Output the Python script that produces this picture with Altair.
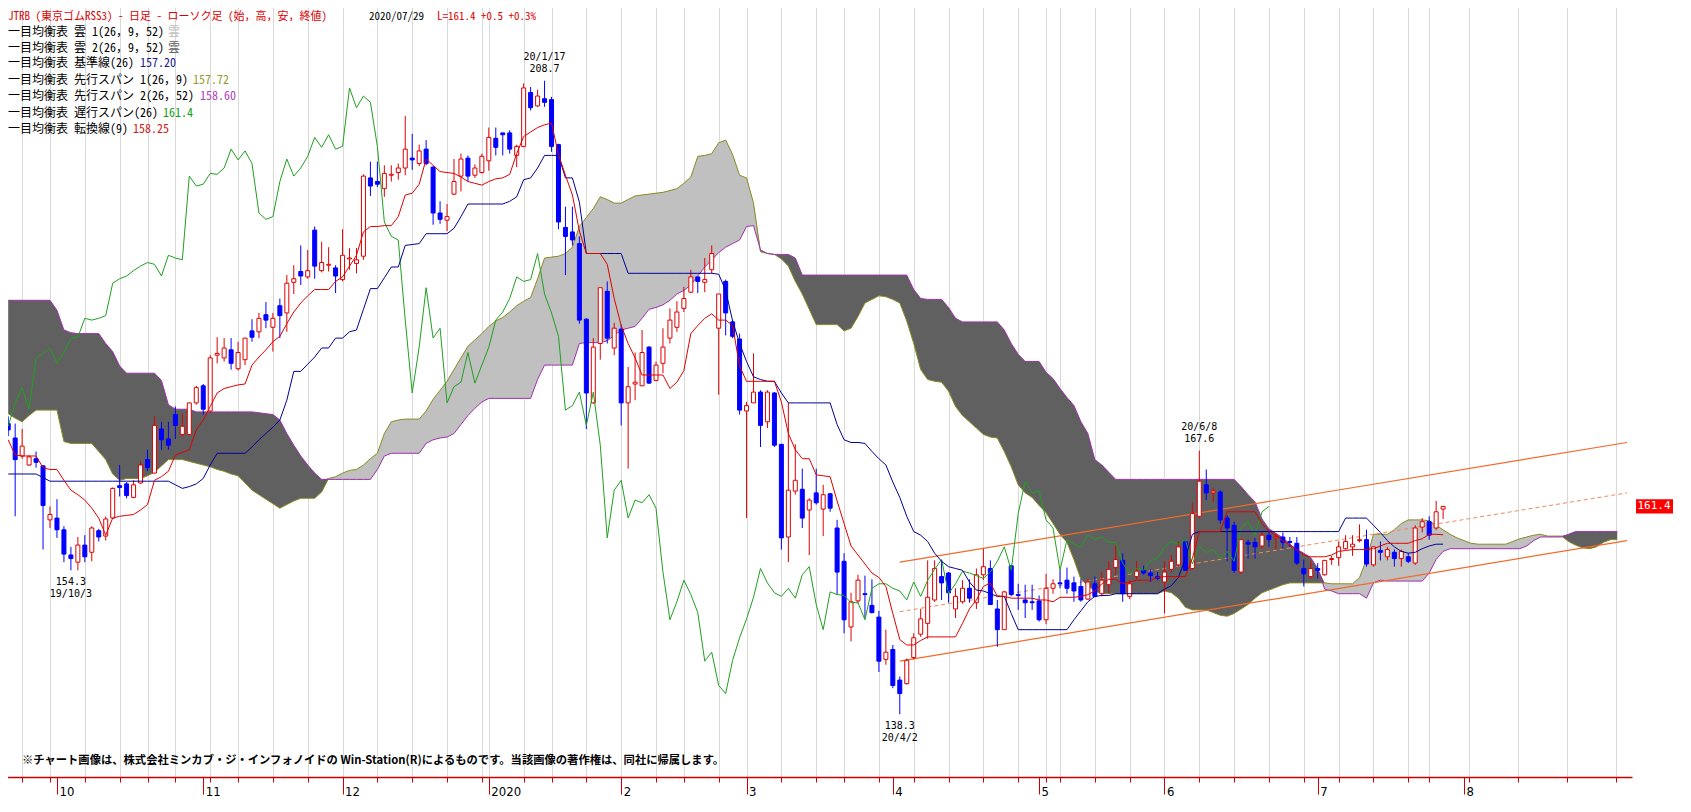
import altair as alt
import pandas as pd

# ---------------- calendar (x categories) ----------------
FIRST_DATE = "2019-09-19"
LAST_DATE = "2020-07-29"
FIRST_INDEX = -9          # 2019-10-03 (low 154.3) is index 0
HOLIDAYS = ["2019-09-23", "2019-10-14", "2019-10-22", "2019-11-04", "2019-12-31",
            "2020-01-01", "2020-01-02", "2020-01-03", "2020-01-13", "2020-02-11",
            "2020-02-24", "2020-03-20", "2020-04-29", "2020-05-04", "2020-05-05",
            "2020-05-06", "2020-07-23", "2020-07-24"]
FUTURE_MONTH_INDEX = [200]
FUTURE_MONTH_LABEL = ["8"]
FUTURE_WEEK_INDEX = [200.7, 207.8, 214.8, 221.8]

X_DOMAIN = [-9.46, 223.4]
Y_DOMAIN = [131.33, 217.67]
Y_TICKS = [140, 150, 160, 170, 180, 190, 200, 210]

# ---------------- candles (index -9 .. 197) ----------------
OPEN = [170.6, 169.0, 167.0, 166.0, 166.7, 165.9, 159.9, 160.1, 158.8, 156.0,
        155.2, 157.1, 156.3, 158.7, 158.1, 160.1, 163.7, 163.9, 162.4, 164.0,
        166.6, 165.1, 170.0, 168.9, 171.6, 169.4, 169.4, 172.9, 174.8, 172.0,
        178.2, 177.9, 178.8, 176.7, 177.7, 180.9, 180.8, 182.7, 181.3, 183.7,
        182.9, 186.3, 187.5, 186.9, 192.1, 187.6, 188.2, 187.9, 186.6, 188.9,
        188.4, 189.2, 197.9, 197.5, 196.7, 198.2, 198.5, 199.0, 200.1, 199.5,
        201.1, 199.1, 194.0, 193.2, 196.1, 198.1, 200.1, 198.2, 198.5, 199.8,
        202.3, 202.9, 202.9, 200.4, 201.4, 207.4, 205.9, 206.7, 206.6, 201.6,
        192.4, 191.9, 190.6, 182.2, 172.9, 179.5, 185.3, 179.0, 181.1, 172.9,
        175.0, 174.8, 179.1, 175.4, 177.3, 180.1, 181.3, 183.4, 185.2, 186.9,
        186.3, 187.7, 181.2, 186.4, 181.9, 180.0, 172.0, 172.9, 174.1, 170.8,
        174.0, 168.3, 158.0, 163.1, 163.3, 161.0, 162.9, 161.1, 162.8, 159.0,
        155.3, 148.0, 150.9, 151.7, 150.4, 149.1, 144.4, 145.5, 142.1, 141.7,
        144.6, 147.2, 148.4, 151.0, 153.6, 154.0, 150.0, 150.8, 152.3, 150.7,
        153.8, 154.5, 150.0, 147.7, 154.8, 151.6, 151.0, 150.8, 150.9, 148.8,
        152.3, 152.9, 153.2, 152.9, 152.5, 151.1, 152.8, 151.7, 152.7, 154.6,
        155.4, 151.4, 153.6, 154.3, 154.0, 153.6, 153.0, 154.4, 154.9, 157.5,
        154.5, 160.3, 163.8, 162.9, 163.0, 160.1, 159.3, 154.1, 157.4, 157.4,
        157.0, 158.2, 157.9, 158.0, 157.5, 157.3, 154.5, 153.6, 154.5, 153.8,
        155.5, 155.7, 156.7, 156.9, 157.6, 157.7, 154.9, 156.5, 155.8, 156.3,
        155.6, 155.8, 155.1, 159.1, 159.7, 159.0, 161.1]
HIGH = [171.4, 170.6, 170.0, 167.1, 167.5, 166.0, 161.4, 162.2, 159.2, 156.9,
        158.0, 158.2, 159.2, 158.9, 160.3, 163.5, 166.0, 164.1, 164.3, 166.4,
        167.7, 171.4, 170.8, 170.8, 172.5, 171.7, 172.9, 174.8, 175.0, 178.2,
        180.2, 180.1, 180.1, 179.7, 180.1, 182.2, 182.9, 184.1, 182.9, 184.5,
        187.1, 188.2, 190.4, 189.9, 192.5, 190.8, 190.2, 188.2, 192.2, 190.1,
        190.1, 198.3, 199.7, 199.7, 199.3, 199.3, 199.5, 204.8, 202.8, 201.6,
        202.1, 199.2, 195.3, 195.0, 200.0, 200.6, 200.4, 199.4, 200.6, 203.5,
        203.5, 202.9, 203.2, 201.6, 208.4, 208.0, 207.7, 208.7, 206.9, 201.7,
        194.7, 194.7, 191.4, 182.3, 180.1, 185.7, 186.4, 181.8, 181.6, 176.9,
        178.5, 181.0, 179.2, 177.5, 181.2, 183.4, 184.2, 185.8, 187.7, 186.9,
        189.0, 190.4, 185.0, 186.6, 182.1, 180.6, 173.0, 178.4, 174.3, 174.3,
        174.1, 168.3, 172.9, 168.3, 165.6, 162.3, 165.6, 163.8, 162.9, 159.9,
        156.2, 151.8, 153.8, 153.7, 153.3, 149.8, 147.7, 146.0, 142.5, 144.5,
        147.3, 150.0, 155.4, 155.4, 155.4, 154.1, 152.3, 153.2, 153.3, 154.5,
        156.7, 155.4, 151.0, 152.0, 154.9, 152.8, 152.7, 152.7, 151.5, 153.9,
        153.3, 154.3, 154.6, 153.6, 153.3, 153.3, 153.6, 154.1, 155.3, 157.1,
        156.2, 153.2, 155.3, 154.8, 154.4, 154.1, 155.3, 156.0, 157.5, 157.7,
        161.8, 167.6, 165.5, 163.5, 163.2, 160.4, 159.7, 157.8, 157.7, 157.9,
        158.6, 158.8, 158.4, 158.5, 158.0, 158.0, 155.5, 155.4, 155.1, 155.4,
        155.9, 157.5, 158.2, 158.2, 159.4, 158.8, 157.0, 157.5, 156.9, 156.6,
        156.6, 156.2, 159.3, 160.1, 160.3, 162.0, 161.4]
LOW = [169.2, 160.3, 166.7, 165.9, 165.7, 156.6, 159.0, 157.9, 155.2, 154.3,
       154.3, 155.2, 155.3, 157.5, 157.6, 160.0, 162.5, 162.3, 162.3, 163.9,
       165.3, 165.1, 167.7, 167.7, 168.9, 169.2, 169.3, 172.7, 171.6, 171.8,
       177.3, 177.5, 176.6, 176.5, 177.1, 179.7, 180.1, 181.2, 178.6, 180.1,
       180.8, 185.0, 186.0, 186.7, 186.7, 187.4, 187.5, 185.1, 186.4, 187.7,
       187.3, 188.8, 195.9, 196.9, 195.8, 197.5, 197.7, 198.2, 198.8, 199.2,
       199.3, 192.7, 192.8, 192.0, 196.0, 196.4, 197.5, 197.9, 198.4, 198.7,
       200.4, 200.4, 200.6, 199.1, 201.3, 205.4, 205.8, 205.8, 200.8, 192.2,
       187.1, 190.4, 181.7, 170.0, 172.8, 177.7, 179.5, 178.2, 170.4, 165.6,
       173.2, 174.8, 175.0, 175.3, 176.2, 179.5, 180.8, 183.0, 185.1, 185.1,
       185.2, 187.3, 173.8, 180.4, 180.1, 171.6, 160.1, 172.9, 168.0, 170.1,
       168.0, 156.6, 155.2, 162.7, 159.0, 156.0, 161.6, 158.1, 160.8, 151.6,
       147.3, 146.4, 150.6, 149.0, 149.5, 143.0, 143.8, 141.2, 138.3, 141.6,
       144.4, 146.9, 146.7, 150.8, 151.0, 150.7, 149.0, 150.6, 150.7, 150.0,
       153.2, 150.5, 145.8, 147.7, 151.4, 149.9, 149.0, 149.9, 148.6, 148.3,
       151.7, 152.3, 151.7, 150.8, 150.8, 151.0, 151.3, 151.4, 151.7, 153.8,
       150.8, 151.1, 153.3, 153.8, 153.0, 153.2, 149.5, 154.1, 154.7, 154.3,
       154.4, 160.1, 162.1, 161.9, 159.5, 155.3, 154.0, 153.9, 155.6, 155.6,
       156.7, 156.9, 156.6, 156.7, 156.9, 154.9, 152.5, 153.4, 153.4, 153.7,
       154.9, 154.8, 156.6, 155.9, 157.4, 154.7, 154.7, 155.4, 155.4, 154.7,
       154.7, 155.1, 154.9, 158.5, 157.7, 158.8, 160.0]
CLOSE = [169.9, 166.6, 168.1, 166.9, 166.3, 161.5, 160.5, 158.8, 156.1, 155.6,
         157.1, 155.8, 159.0, 158.0, 160.0, 163.4, 163.5, 162.6, 163.8, 166.0,
         165.7, 170.4, 168.8, 168.2, 170.4, 170.3, 172.9, 174.6, 172.2, 177.9,
         178.4, 179.0, 177.3, 178.5, 180.1, 180.2, 182.3, 182.1, 182.3, 182.6,
         186.2, 186.7, 187.0, 187.6, 188.1, 188.5, 188.3, 187.0, 189.3, 189.0,
         188.8, 198.1, 197.0, 197.2, 198.4, 198.3, 199.0, 201.1, 199.9, 200.9,
         199.5, 194.0, 193.3, 193.6, 197.5, 200.0, 198.1, 199.0, 200.3, 202.4,
         201.3, 202.7, 201.1, 201.4, 207.9, 205.7, 207.0, 206.3, 201.4, 193.0,
         191.4, 191.0, 182.1, 174.0, 179.1, 185.7, 180.1, 181.2, 172.9, 174.7,
         175.2, 178.5, 175.1, 177.1, 179.1, 182.1, 183.0, 184.5, 186.9, 186.4,
         186.6, 189.5, 185.0, 182.9, 180.3, 172.1, 172.6, 174.1, 170.4, 174.1,
         168.2, 157.9, 163.2, 164.3, 160.1, 162.1, 161.8, 162.7, 161.2, 154.1,
         148.8, 150.8, 153.2, 151.6, 149.6, 144.2, 145.2, 141.5, 140.6, 144.3,
         146.8, 148.9, 151.3, 154.5, 152.9, 151.8, 151.4, 152.3, 151.2, 153.8,
         154.7, 150.5, 147.7, 151.9, 151.6, 151.5, 150.7, 150.7, 148.8, 152.3,
         152.8, 152.8, 152.3, 152.0, 151.0, 153.0, 151.4, 153.2, 154.4, 155.5,
         151.7, 152.8, 154.2, 154.0, 153.7, 153.4, 154.1, 155.3, 156.9, 154.3,
         160.6, 164.2, 162.9, 163.1, 159.9, 159.0, 154.3, 157.7, 157.2, 156.9,
         158.2, 157.7, 158.0, 157.4, 157.4, 155.1, 153.9, 154.5, 154.3, 155.4,
         155.6, 156.9, 157.5, 157.2, 157.7, 155.0, 156.9, 156.3, 156.6, 155.6,
         156.4, 155.3, 159.0, 159.7, 158.2, 160.8, 161.4]

# ---------------- ichimoku lines (index -9 .. 197) ----------------
TENKAN = [168.8, 167.1, 167.0, 167.0, 167.0, 165.7, 165.5, 165.5, 164.3, 163.2,
          162.7, 162.1, 161.2, 160.1, 158.2, 160.1, 160.3, 160.4, 160.5, 161.0,
          161.6, 164.3, 164.7, 165.3, 167.1, 167.4, 167.7, 169.9, 171.0, 172.5,
          174.0, 174.5, 174.7, 174.9, 175.0, 177.1, 178.0, 178.8, 179.7, 180.3,
          181.7, 183.0, 184.0, 184.8, 185.5, 185.5, 185.5, 186.4, 186.9, 188.1,
          189.3, 191.9, 192.5, 192.5, 192.6, 192.6, 193.6, 196.0, 196.2, 197.2,
          200.0, 199.3, 198.6, 198.5, 198.4, 198.0, 197.5, 197.3, 197.1, 197.5,
          197.8, 197.9, 198.3, 200.6, 202.5, 203.0, 203.5, 203.8, 204.0, 200.5,
          198.2, 196.0, 192.0, 189.5, 189.5, 189.5, 188.3, 184.5, 181.5, 179.5,
          177.9, 176.0, 176.0, 176.0, 176.0, 174.5, 175.2, 176.5, 180.6, 181.5,
          182.3, 182.8, 182.1, 182.1, 181.5, 177.0, 175.3, 175.3, 175.3, 175.3,
          175.3, 173.0, 169.5, 167.7, 166.7, 166.7, 164.9, 164.8, 164.7, 162.0,
          159.5, 157.0, 156.0, 155.0, 154.0, 153.5, 152.5, 149.5, 146.6, 146.0,
          146.0, 146.5, 146.9, 146.9, 146.9, 146.9, 146.9, 148.4, 150.0, 151.0,
          152.5, 152.9, 151.4, 151.4, 151.2, 151.2, 151.2, 151.2, 151.0, 151.0,
          150.8, 151.3, 151.3, 151.3, 151.4, 151.6, 152.0, 152.8, 153.3, 153.3,
          152.8, 153.0, 153.2, 153.2, 153.2, 153.5, 153.6, 153.6, 153.6, 153.6,
          155.6, 158.6, 158.6, 158.6, 158.6, 160.8, 160.8, 160.8, 160.8, 160.8,
          159.5, 158.6, 158.2, 157.6, 157.1, 156.6, 156.0, 155.8, 155.8, 155.8,
          156.0, 156.4, 156.5, 156.6, 156.6, 156.6, 156.7, 157.0, 157.3, 157.3,
          157.3, 157.3, 157.6, 157.8, 158.3, 158.3, 158.25]
KIJUN = [165.0, 165.0, 165.0, 165.0, 165.0, 164.6, 164.2, 164.2, 164.2, 164.2,
         164.2, 164.2, 164.2, 164.2, 164.2, 164.2, 164.2, 164.2, 164.2, 164.2,
         164.2, 164.2, 164.2, 164.2, 163.8, 163.4, 163.6, 163.9, 164.5, 166.0,
         167.3, 167.3, 167.3, 167.3, 167.3, 168.0, 168.8, 169.5, 170.2, 171.0,
         173.2, 176.4, 176.4, 177.2, 178.0, 179.0, 179.0, 180.1, 180.1, 180.8,
         181.0, 183.3, 185.6, 185.6, 186.8, 188.0, 188.0, 190.4, 190.5, 190.6,
         191.7, 191.7, 191.7, 191.7, 192.3, 193.6, 195.0, 195.0, 195.0, 195.0,
         195.0, 195.0, 195.3, 195.8, 197.7, 197.9, 199.0, 200.4, 200.4, 200.4,
         197.9, 197.9, 195.2, 189.5, 189.5, 189.5, 189.5, 189.5, 189.5, 187.3,
         187.3, 187.3, 187.3, 187.3, 187.3, 187.3, 187.3, 187.3, 187.3, 187.3,
         187.3, 187.3, 187.2, 185.4, 182.0, 179.5, 177.5, 175.8, 175.5, 175.3,
         175.3, 174.0, 172.9, 172.9, 172.9, 172.9, 172.9, 172.9, 172.9, 170.5,
         168.8, 168.5, 168.5, 168.4, 167.5, 166.7, 166.0, 164.1, 162.4, 160.3,
         158.6, 158.2, 157.5, 156.2, 155.3, 154.7, 154.5, 154.3, 153.0, 152.1,
         152.0, 151.7, 151.4, 151.4, 149.5, 147.7, 147.7, 147.7, 147.7, 147.7,
         147.7, 147.7, 147.7, 148.8, 149.8, 150.8, 151.4, 151.5, 151.5, 151.7,
         151.7, 151.7, 151.7, 151.7, 151.7, 151.7, 152.2, 152.6, 153.5, 155.6,
         158.3, 158.6, 158.6, 158.6, 158.6, 158.6, 158.6, 158.6, 158.6, 158.6,
         158.6, 158.6, 158.6, 158.6, 158.6, 158.6, 158.6, 158.6, 158.6, 158.6,
         158.6, 158.6, 160.1, 160.1, 160.1, 160.1, 159.3, 158.5, 157.6, 156.9,
         156.4, 156.2, 156.3, 156.7, 157.0, 157.2, 157.2]
CHIKOU_SHIFT = 25

# ---------------- leading spans (index -9 .. 222) ----------------
SPAN1 = [171.7, 171.2, 170.8, 171.5, 172.1, 172.1, 172.1, 172.1, 168.6, 168.4,
         168.4, 168.4, 168.4, 167.5, 166.6, 165.0, 164.3, 164.5, 164.5, 164.5,
         164.8, 165.2, 165.9, 166.6, 166.6, 166.6, 166.4, 166.2, 166.0, 165.8,
         165.5, 165.3, 165.0, 164.8, 164.0, 163.2, 162.7, 162.2, 161.7, 161.2,
         161.6, 162.0, 162.3, 162.3, 162.3, 163.0, 164.5, 164.7, 165.1, 165.4,
         165.5, 166.0, 166.7, 167.3, 169.5, 170.8, 171.0, 171.1, 171.1, 171.1,
         172.0, 173.3, 174.3, 175.3, 176.6, 177.9, 179.2, 179.9, 180.6, 181.4,
         182.0, 182.4, 183.0, 183.7, 184.2, 184.6, 186.7, 189.0, 189.1, 189.2,
         189.5, 190.2, 192.5, 193.5, 194.5, 195.8, 195.5, 195.1, 195.1, 195.5,
         195.9, 196.0, 196.1, 196.2, 196.3, 196.5, 196.7, 197.3, 198.0, 200.3,
         200.4, 200.6, 201.8, 202.1, 200.5, 198.2, 197.9, 195.1, 189.7, 189.5,
         189.4, 188.9, 188.1, 186.4, 185.0, 183.3, 181.6, 181.6, 181.6, 181.6,
         180.9, 181.2, 182.5, 184.0, 184.4, 184.8, 184.7, 184.4, 184.0, 182.0,
         179.5, 176.6, 175.5, 175.3, 175.2, 174.2, 172.5, 171.5, 170.8, 170.1,
         169.4, 169.1, 169.0, 167.5, 165.8, 163.8, 162.9, 162.4, 161.5, 160.7,
         159.5, 158.3, 157.4, 155.5, 153.3, 152.6, 152.0, 151.7, 151.7, 151.7,
         151.7, 151.7, 151.7, 151.7, 151.7, 151.7, 152.0, 151.8, 151.2, 150.2,
         149.9, 149.9, 149.9, 149.6, 149.3, 149.2, 149.5, 150.0, 150.5, 151.2,
         151.8, 152.1, 152.4, 152.7, 152.9, 152.9, 152.9, 152.9, 152.9, 152.9,
         152.8, 152.8, 152.8, 152.8, 153.5, 155.5, 158.3, 158.3, 158.3, 158.8,
         159.5, 159.9, 159.9, 159.9, 159.8, 159.3, 158.8, 158.3, 157.9, 157.6,
         157.3, 157.2, 157.2, 157.2, 157.2, 157.2, 157.5, 157.8, 158.0, 158.2,
         158.3, 158.1, 158.1, 158.1, 157.5, 157.1, 156.8, 156.7, 156.9, 157.4,
         157.7, 157.72]
SPAN2 = [184.3, 184.3, 184.3, 184.3, 184.3, 184.3, 184.3, 183.2, 181.0, 180.7,
         180.6, 180.6, 180.6, 180.6, 179.5, 178.6, 177.0, 176.2, 176.2, 176.2,
         176.2, 176.2, 175.4, 172.7, 172.2, 172.2, 172.2, 171.9, 171.9, 171.9,
         171.9, 171.9, 171.9, 171.9, 171.9, 171.9, 171.8, 171.7, 171.6, 171.0,
         169.5, 168.2, 167.0, 166.0, 165.1, 164.4, 164.4, 164.4, 164.4, 164.4,
         164.4, 164.4, 164.4, 165.5, 167.0, 167.3, 167.3, 167.3, 167.3, 167.3,
         168.4, 168.8, 169.0, 169.1, 169.5, 170.5, 171.5, 172.3, 173.0, 173.4,
         173.4, 173.4, 173.4, 173.4, 173.4, 173.4, 175.5, 177.1, 177.1, 177.1,
         177.1, 177.1, 179.5, 179.6, 179.6, 179.6, 179.8, 180.4, 181.0, 181.2,
         181.4, 182.3, 183.3, 183.5, 183.8, 184.3, 185.0, 185.4, 186.0, 187.0,
         188.0, 188.8, 189.6, 190.2, 190.6, 191.0, 192.5, 192.6, 189.9, 189.5,
         189.4, 189.4, 189.4, 189.0, 187.1, 187.1, 187.1, 187.1, 187.1, 187.1,
         187.1, 187.1, 187.1, 187.1, 187.1, 187.1, 187.1, 187.1, 187.1, 187.1,
         185.5, 184.5, 184.4, 184.4, 184.4, 183.5, 182.3, 181.9, 181.9, 181.9,
         181.9, 181.9, 181.9, 181.0, 179.5, 178.3, 177.5, 177.5, 177.5, 176.3,
         175.6, 174.5, 173.5, 172.6, 170.8, 169.5, 166.6, 166.0, 165.2, 164.4,
         164.4, 164.4, 164.4, 164.4, 164.4, 164.4, 164.4, 164.4, 164.4, 164.4,
         164.4, 164.4, 164.4, 164.4, 164.4, 164.4, 164.4, 163.6, 162.7, 161.9,
         160.0, 158.9, 158.4, 157.9, 157.2, 156.6, 156.2, 155.7, 154.5, 152.2,
         152.0, 151.7, 151.7, 151.7, 151.7, 151.2, 152.9, 153.2, 153.1, 153.1,
         153.1, 153.1, 153.1, 153.1, 154.0, 155.5, 156.4, 156.7, 156.7, 156.7,
         156.7, 156.7, 156.7, 156.7, 156.7, 156.7, 156.7, 156.7, 157.0, 157.6,
         158.0, 158.0, 158.0, 158.0, 158.3, 158.6, 158.6, 158.6, 158.6, 158.6,
         158.6, 158.6]

# ---------------- trend channel (start/end index, price) ----------------
CHANNEL_INDEX = [119.0, 223.4]
CHANNEL_UPPER = [155.2, 168.5]
CHANNEL_MIDDLE = [149.7, 162.9]
CHANNEL_LOWER = [144.2, 157.6]

# ---------------- annotations ----------------
MARK_INDEX = [68, 0, 119, 162]
MARK_PRICE = [208.7, 154.3, 138.3, 167.6]
MARK_DATE = ["20/1/17", "19/10/3", "20/4/2", "20/6/8"]
MARK_SIDE = ["high", "low", "low", "high"]
LAST_PRICE = 161.4

TITLE_MAIN = "JTRB (東京ゴムRSS3) - 日足 - ローソク足 (始，高，安，終値)"
TITLE_DATE = "2020/07/29"
TITLE_LAST = "L=161.4 +0.5  +0.3%"
LEGEND_NAMES = ["一目均衡表 雲 1(26，9，52)", "一目均衡表 雲 2(26，9，52)",
                "一目均衡表 基準線(26)", "一目均衡表 先行スパン 1(26，9)",
                "一目均衡表 先行スパン 2(26，52)", "一目均衡表 遅行スパン(26)",
                "一目均衡表 転換線(9)"]
LEGEND_VALUES = ["雲", "雲", "157.20", "157.72", "158.60", "161.4", "158.25"]
COPYRIGHT = ("※チャート画像は、株式会社ミンカブ・ジ・インフォノイドの Win-Station(R)"
             "によるものです。当該画像の著作権は、同社に帰属します。")

# ================= build tables =================
hol = set(pd.to_datetime(HOLIDAYS))
dates = [d for d in pd.bdate_range(FIRST_DATE, LAST_DATE) if d not in hol]
index = list(range(FIRST_INDEX, FIRST_INDEX + len(dates)))
assert len(index) == len(OPEN) == len(CLOSE) == len(TENKAN) == len(KIJUN)
assert len(SPAN1) == len(SPAN2)

cal = pd.DataFrame({"date": dates, "i": index})
cal["ym"] = cal["date"].dt.year * 100 + cal["date"].dt.month
firsts = cal.groupby("ym").first().reset_index()
firsts = firsts[firsts["date"].dt.day <= 7]
month_idx = [int(v) for v in firsts["i"]] + FUTURE_MONTH_INDEX
month_lab = [str(d.year) if d.month == 1 else str(d.month) for d in firsts["date"]] + FUTURE_MONTH_LABEL
cal["wk"] = cal["date"] - pd.to_timedelta(cal["date"].dt.weekday, unit="D")
week_idx = [int(v) for v in cal.groupby("wk").first()["i"].iloc[1:]] + FUTURE_WEEK_INDEX

candles = pd.DataFrame({"i": index, "open": OPEN, "high": HIGH, "low": LOW, "close": CLOSE})
candles["up"] = candles["close"] >= candles["open"]
up = candles[candles["up"]]
down = candles[~candles["up"]]

lines = pd.DataFrame({"i": index, "tenkan": TENKAN, "kijun": KIJUN})
chik = pd.DataFrame({"i": [i - CHIKOU_SHIFT for i in index if i - CHIKOU_SHIFT >= FIRST_INDEX],
                     "v": [c for i, c in zip(index, CLOSE) if i - CHIKOU_SHIFT >= FIRST_INDEX]})
span_index = list(range(FIRST_INDEX, FIRST_INDEX + len(SPAN1)))
cloud = pd.DataFrame({"i": span_index, "s1": SPAN1, "s2": SPAN2})
channel = pd.DataFrame({"i": CHANNEL_INDEX * 3,
                        "v": CHANNEL_UPPER + CHANNEL_LOWER + CHANNEL_MIDDLE,
                        "name": ["upper"] * 2 + ["lower"] * 2 + ["middle"] * 2})
marks = pd.DataFrame({"i": MARK_INDEX, "p": MARK_PRICE, "d": MARK_DATE, "side": MARK_SIDE})

# ================= chart =================
W, H = 1632, 777
RED_AXIS = "#cc0000"
GRID = "#d9d9d9"
MONO = "DejaVu Sans Mono"
JP = "Noto Sans Mono CJK JP, Noto Sans CJK JP, sans-serif"

xs = alt.Scale(domain=X_DOMAIN, nice=False, zero=False)
ys = alt.Scale(domain=Y_DOMAIN, nice=False, zero=False)


def X(f="i"):
    return alt.X(f, type="quantitative", scale=xs, axis=None)


def Y(f):
    return alt.Y(f, type="quantitative", scale=ys, axis=None)


label_expr = " : ".join(f"datum.value == {v} ? '{l}'" for v, l in zip(month_idx, month_lab)) + " : ''"

axis_month = alt.Chart(candles).mark_point(opacity=0).encode(
    x=alt.X("i:Q", scale=xs, axis=alt.Axis(
        orient="bottom", values=month_idx, labelExpr=label_expr, grid=False,
        domainColor=RED_AXIS, domainWidth=1.5, tickColor=RED_AXIS, tickSize=17,
        labelAlign="left", labelBaseline="top", labelOffset=2, labelPadding=-9,
        labelFont="Liberation Sans Narrow, DejaVu Sans Condensed, sans-serif",
        labelFontSize=13, labelColor="#000000", labelOverlap=False, labelFlush=False, title=None)),
    y=alt.Y("close:Q", scale=ys, axis=alt.Axis(
        orient="right", values=Y_TICKS, format=".1f", grid=True, gridColor=GRID,
        domainColor=RED_AXIS, domainWidth=1.5, tickColor=RED_AXIS, tickSize=5,
        labelFont=MONO, labelFontSize=11, labelColor="#000000", labelPadding=3, title=None)),
)
axis_week = alt.Chart(candles).mark_point(opacity=0).encode(
    x=alt.X("i:Q", scale=xs, axis=alt.Axis(
        orient="bottom", values=week_idx, labels=False, domain=False, grid=True,
        gridColor=GRID, tickColor=RED_AXIS, tickSize=5, title=None)),
    y=Y("close:Q"),
)

light = alt.Chart(cloud).transform_calculate(top="max(datum.s1, datum.s2)").mark_area(
    color="#c0c0c0", opacity=1).encode(x=X(), y=Y("top:Q"), y2="s2:Q")
dark = alt.Chart(cloud).transform_calculate(top="max(datum.s1, datum.s2)").mark_area(
    color="#606060", opacity=1).encode(x=X(), y=Y("top:Q"), y2="s1:Q")
span1_line = alt.Chart(cloud).mark_line(color="#8a8a20", strokeWidth=1).encode(x=X(), y=Y("s1:Q"))
span2_line = alt.Chart(cloud).mark_line(color="#a030b0", strokeWidth=1).encode(x=X(), y=Y("s2:Q"))

ch_solid = alt.Chart(channel).transform_filter("datum.name != 'middle'").mark_line(
    color="#f26a2a", strokeWidth=1.2, clip=True).encode(x=X(), y=Y("v:Q"), detail="name:N")
ch_mid = alt.Chart(channel).transform_filter("datum.name == 'middle'").mark_line(
    color="#f08a5a", strokeWidth=1, strokeDash=[4, 3], clip=True).encode(x=X(), y=Y("v:Q"))

wick_up = alt.Chart(up).mark_rule(color="#e00000", strokeWidth=1).encode(x=X(), y=Y("low:Q"), y2="high:Q")
wick_dn = alt.Chart(down).mark_rule(color="#0000ff", strokeWidth=1).encode(x=X(), y=Y("low:Q"), y2="high:Q")
body_up = alt.Chart(up).mark_bar(size=4, fill="#ffffff", stroke="#e00000", strokeWidth=1).encode(
    x=X(), y=Y("open:Q"), y2="close:Q")
body_dn = alt.Chart(down).mark_bar(size=4, fill="#0000ff", stroke="#0000ff", strokeWidth=1).encode(
    x=X(), y=Y("open:Q"), y2="close:Q")

chikou_line = alt.Chart(chik).mark_line(color="#20a020", strokeWidth=1).encode(x=X(), y=Y("v:Q"))
kijun_line = alt.Chart(lines).mark_line(color="#000099", strokeWidth=1).encode(x=X(), y=Y("kijun:Q"))
tenkan_line = alt.Chart(lines).mark_line(color="#e00000", strokeWidth=1).encode(x=X(), y=Y("tenkan:Q"))


def ann(side, field, dy):
    return alt.Chart(marks).transform_filter(f"datum.side == '{side}'").mark_text(
        font=MONO, fontSize=10, color="#000000", dy=dy, align="center", baseline="middle").encode(
        x=X(), y=Y("p:Q"), text=alt.Text(field, type="nominal" if field == "d" else "quantitative",
                                          format="" if field == "d" else ".1f"))


annots = [ann("high", "d", -24), ann("high", "p", -12), ann("low", "p", 12), ann("low", "d", 24)]

last_df = pd.DataFrame({"p": [LAST_PRICE]})
last_box = alt.Chart(last_df).transform_calculate(a="datum.p + 0.8", b="datum.p - 0.8").mark_rect(
    color="#ff0000").encode(x=alt.value(W + 4), x2=alt.value(W + 41), y=Y("a:Q"), y2="b:Q")
last_txt = alt.Chart(last_df).mark_text(font=MONO, fontSize=11, color="#ffffff", align="center",
                                        baseline="middle").encode(
    x=alt.value(W + 22), y=Y("p:Q"), text=alt.Text("p:Q", format=".1f"))


def label(txt, x, y, color, font=JP, size=12, weight="normal"):
    return alt.Chart(pd.DataFrame({"t": [txt]})).mark_text(
        font=font, fontSize=size, fontWeight=weight, color=color, align="left", baseline="middle").encode(
        x=alt.value(x), y=alt.value(y), text="t:N")


TITLE_Y = 17
texts = [label(TITLE_MAIN, 8, TITLE_Y, "#dd0000", size=11),
         label(TITLE_DATE, 369, TITLE_Y, "#000000", size=11),
         label(TITLE_LAST, 437, TITLE_Y, "#dd0000", size=11)]
leg_y = [32, 47.5, 63, 79.5, 96, 112.7, 129.3]
leg_x = [168, 168, 140, 193, 200, 163, 133]
leg_c = ["#c0c0c0", "#606060", "#1a1a8c", "#9a9a30", "#b040c0", "#10a010", "#d02020"]
for name, val, yy, xx, cc in zip(LEGEND_NAMES, LEGEND_VALUES, leg_y, leg_x, leg_c):
    texts.append(label(name, 8, yy, "#000000"))
    texts.append(label(val, xx, yy, cc))
texts.append(label(COPYRIGHT, 22, 761, "#000000", font="Noto Sans CJK JP", size=11.3, weight="bold"))

chart = alt.layer(
    axis_week, axis_month, light, dark, span1_line, span2_line, ch_solid, ch_mid,
    wick_up, wick_dn, body_up, body_dn, chikou_line, kijun_line, tenkan_line,
    *annots, last_box, last_txt, *texts
).resolve_axis(x="independent").properties(
    width=W, height=H,
    autosize=alt.AutoSizeParams(type="none"),
    padding={"left": -8, "top": -8, "right": 48, "bottom": 24},
    background="#ffffff",
).configure_view(stroke=None)

chart.save("out.html", embed_options={"renderer": "svg", "actions": False})
